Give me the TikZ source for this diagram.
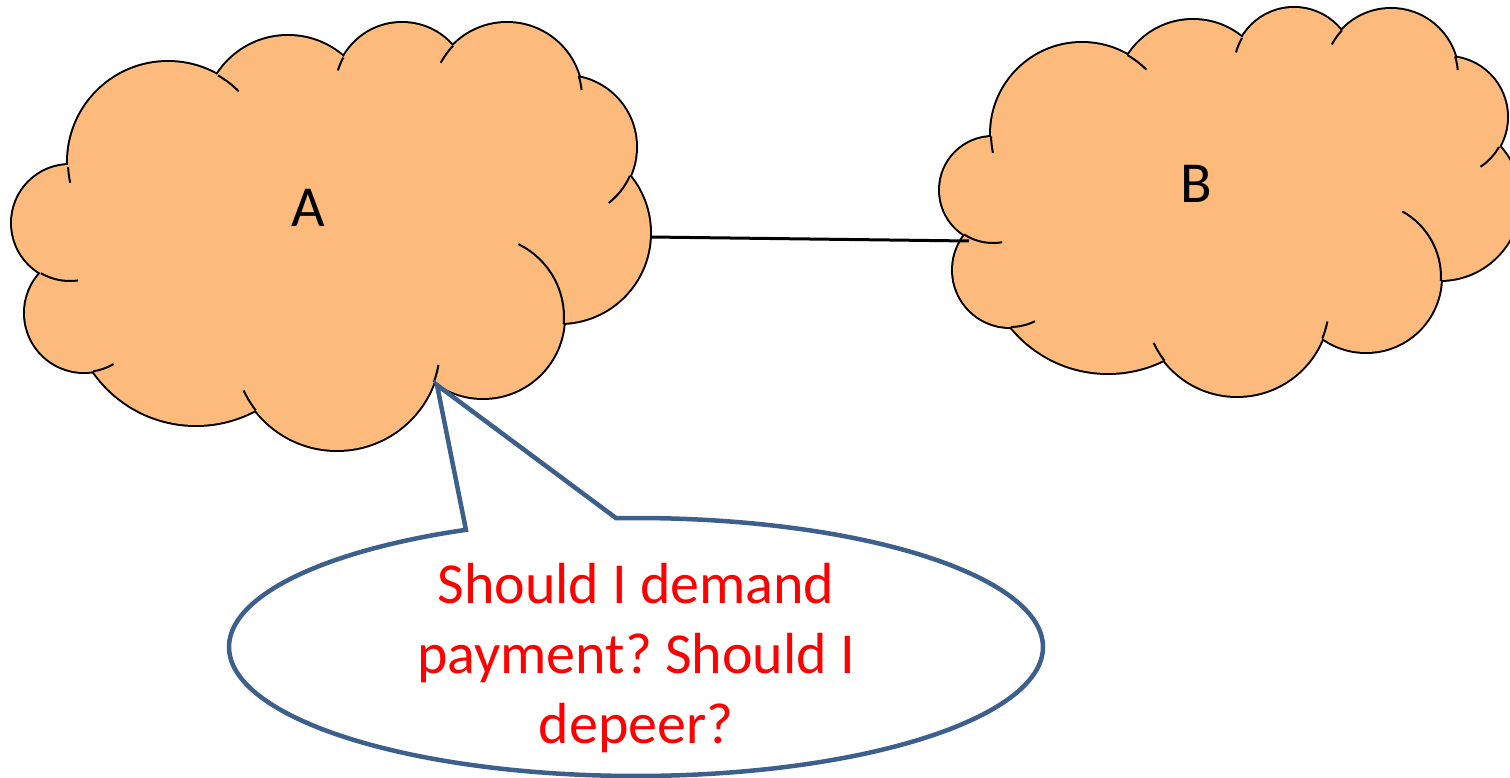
\documentclass[tikz,border=0pt]{standalone}
\usepackage{fontspec}
\setmainfont{Carlito}
\frenchspacing
\definecolor{cloudfill}{HTML}{FCBB7D}
\definecolor{callblue}{HTML}{3C5F8C}
\definecolor{textred}{HTML}{FF0000}
\tikzset{
  puffline/.style={draw=black, fill=cloudfill, line width=4pt},
  pufffill/.style={fill=cloudfill},
  tickline/.style={draw=black, line width=2pt},
  cloudlabel/.style={font=\fontsize{58}{70}\selectfont, text=black, inner sep=0pt},
  link/.style={draw=black, line width=3pt},
  bubble/.style={draw=callblue, fill=white, line width=4.5pt},
  bubbletext/.style={font=\fontsize{58}{70}\selectfont, text=textred, align=center, inner sep=0pt}
}
\begin{document}
\begin{tikzpicture}[x=1pt,y=-1pt]
\useasboundingbox (0,0) rectangle (1510,778);
% ---- cloud A ----
\foreach \cx/\cy/\r in {168/162/100, 288/120/84, 402/90/67, 507/98/75, 565/147/71, 560/233/90, 483/317/81, 337/347/103, 196/300/125, 84/313/59, 70/223/58}
  {\path[puffline] (\cx,\cy) circle[radius=\r pt];}
\foreach \cx/\cy/\r in {168/162/100, 288/120/84, 402/90/67, 507/98/75, 565/147/71, 560/233/90, 483/317/81, 337/347/103, 196/300/125, 84/313/59, 70/223/58}
  {\path[pufffill] (\cx,\cy) circle[radius=\r pt];}
\path[pufffill] (320,230) ellipse[x radius=240pt, y radius=140pt];
\foreach \cx/\cy/\r/\a/\b in {168/162/100/177/168, 168/162/100/-60/-45, 402/90/67/-151/-163, 507/98/75/-136/-152, 507/98/75/-17/-6, 565/147/71/24/52, 483/317/81/-64/5, 337/347/103/20/10, 337/347/103/142/155, 84/313/59/81/60, 70/223/58/120/82}
  {\draw[tickline] plot[domain=\a:\b, samples=16, variable=\t] ({\cx+\r*cos(\t)},{\cy+\r*sin(\t)});}
% ---- cloud B ----
\foreach \cx/\cy/\r in {1082/134/91, 1193/97/77, 1294/68/60, 1391/76/67, 1447/117/60, 1440/200/80, 1366/277/75, 1237/304/92, 1108/248/125, 1010/270/57, 993/190/53}
  {\path[puffline] (\cx,\cy) circle[radius=\r pt];}
\foreach \cx/\cy/\r in {1082/134/91, 1193/97/77, 1294/68/60, 1391/76/67, 1447/117/60, 1440/200/80, 1366/277/75, 1237/304/92, 1108/248/125, 1010/270/57, 993/190/53}
  {\path[pufffill] (\cx,\cy) circle[radius=\r pt];}
\path[pufffill] (1220,200) ellipse[x radius=230pt, y radius=130pt];
\foreach \cx/\cy/\r/\a/\b in {1082/134/91/178.5/168, 1082/134/91/-60/-45, 1294/68/60/-150/-165, 1391/76/67/-137/-152, 1391/76/67/-17/-5, 1447/117/60/30/56, 1366/277/75/-61/3, 1237/304/92/22/11, 1237/304/92/142/155, 1010/270/57/89/64, 993/190/53/123/80}
  {\draw[tickline] plot[domain=\a:\b, samples=16, variable=\t] ({\cx+\r*cos(\t)},{\cy+\r*sin(\t)});}
% ---- labels ----
\node[cloudlabel] (A) at (308,207.5) {A};
\node[cloudlabel] (B) at (1196,183.5) {B};
% ---- connector ----
\coordinate (Aedge) at (650,237);
\coordinate (Bedge) at (969,241);
\draw[link] (Aedge) -- (Bedge);
% ---- callout ----
\coordinate (tip) at (437,385);
\path[bubble] (tip) -- plot[domain=-92.8:245.3, samples=240, variable=\t] ({636+407*cos(\t)},{647+129*sin(\t)}) -- cycle;
\node[bubbletext] (Q) at (636,658) {Should I demand\\payment? Should I\\depeer?};
\end{tikzpicture}
\end{document}
